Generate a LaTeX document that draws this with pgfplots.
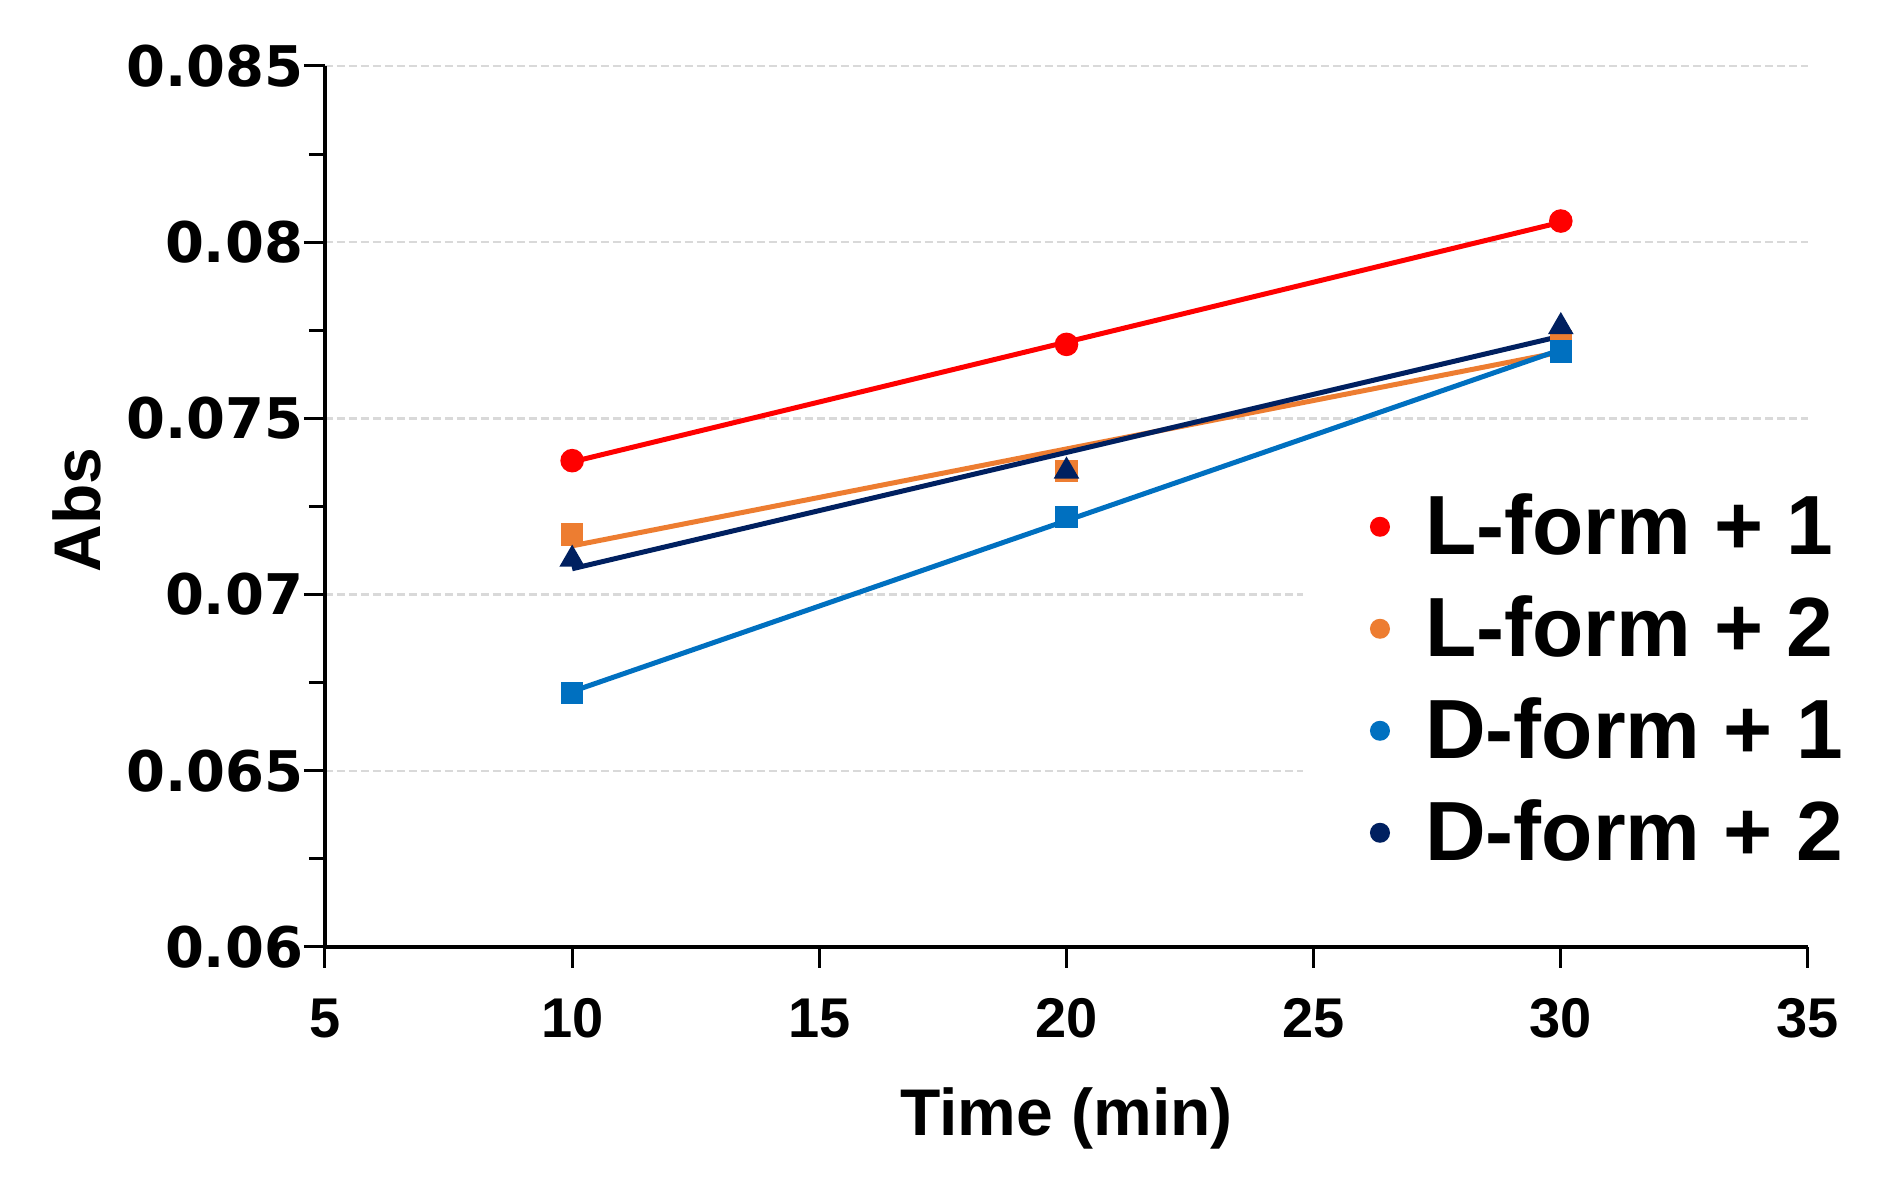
\documentclass[border=0pt]{standalone}
\usepackage{fontspec}
\setmainfont{Liberation Sans}
\newfontfamily\tickfont{DejaVu Sans}
\usepackage{pgfplots}
\usepackage{pgfplotstable}
\pgfplotsset{compat=1.18}

\definecolor{lone}{HTML}{FF0000}
\definecolor{ltwo}{HTML}{ED7D31}
\definecolor{done}{HTML}{0070C0}
\definecolor{dtwo}{HTML}{002060}
\definecolor{gridgray}{HTML}{D9D9D9}

% Abs against time
\pgfplotstableread{
x y
10 0.0738
20 0.0771
30 0.0806
}\lformone
\pgfplotstableread{
x y
10 0.0717
20 0.0735
30 0.0772
}\lformtwo
\pgfplotstableread{
x y
10 0.0672
20 0.0722
30 0.0769
}\dformone
\pgfplotstableread{
x y
10 0.0710
20 0.0735
30 0.0776
}\dformtwo

\begin{document}
\begin{tikzpicture}
\path[use as bounding box] (-81.25pt,-59.25pt) rectangle (393.5pt,236.75pt);
\begin{axis}[
    at={(0pt,0pt)}, anchor=south west,
    scale only axis, width=370.75pt, height=220.25pt,
    xmin=5, xmax=35, ymin=0.06, ymax=0.085,
    xtick={5,10,15,20,25,30,35},
    xticklabels={5,10,15,20,25,30,35},
    ytick={0.06,0.065,0.07,0.075,0.08,0.085},
    yticklabels={0.06,0.065,0.07,0.075,0.08,0.085},
    minor ytick={0.0625,0.0675,0.0725,0.0775,0.0825},
    scaled y ticks=false,
    /pgf/number format/assume math mode=true,
    axis lines=left,
    axis line style={-, line width=0.85pt},
    tick align=outside,
    major tick length=5.25pt, minor tick length=4pt,
    tick style={black, line width=0.75pt},
    ymajorgrids,
    major grid style={gridgray, line width=0.6pt, dash pattern=on 2pt off 1pt},
    xticklabel style={font=\fontsize{14}{16}\selectfont\bfseries, anchor=north, inner sep=0pt, yshift=-7.5pt},
    yticklabel style={font=\tickfont\fontsize{14}{16}\selectfont\bfseries, anchor=east, inner sep=0pt},
    xlabel={Time (min)},
    xlabel style={at={(axis description cs:0.5,-0.2145)}, anchor=base, font=\fontsize{16.5}{20}\selectfont\bfseries},
    ylabel={Abs},
    ylabel style={at={(axis description cs:-0.1517,0.496)}, anchor=base, font=\fontsize{16.5}{20}\selectfont\bfseries},
    legend style={at={(axis description cs:0.6588,0.5369)}, anchor=north west,
        draw=none, fill=white, inner xsep=17pt, inner ysep=5pt,
        font=\fontsize{21}{25}\selectfont\bfseries, row sep=6pt,
        nodes={inner sep=0pt, text height=15pt, text depth=4.5pt},
        /tikz/every odd column/.style={column sep=9pt}},
    legend cell align=left,
]
% linear trend lines
\addplot[lone, line width=1.25pt, forget plot] table[x=x, y={create col/linear regression={y=y}}] {\lformone};
\addplot[ltwo, line width=1.25pt, forget plot] table[x=x, y={create col/linear regression={y=y}}] {\lformtwo};
\addplot[done, line width=1.25pt, forget plot] table[x=x, y={create col/linear regression={y=y}}] {\dformone};
\addplot[dtwo, line width=1.25pt, forget plot] table[x=x, y={create col/linear regression={y=y}}] {\dformtwo};
% measured points
\addplot[lone, only marks, mark=*, mark size=2.75pt, forget plot] table[x=x, y=y] {\lformone};
\addplot[ltwo, only marks, mark=square*, mark size=2.6pt, forget plot] table[x=x, y=y] {\lformtwo};
\addplot[done, only marks, mark=square*, mark size=2.6pt, forget plot] table[x=x, y=y] {\dformone};
\addplot[dtwo, only marks, mark=triangle*, mark size=3.3pt, forget plot] table[x=x, y=y] {\dformtwo};
% legend shows small dots only
\addlegendimage{lone, only marks, mark=*, mark size=2.3pt, yshift=1.75pt}
\addlegendentry{L-form + 1}
\addlegendimage{ltwo, only marks, mark=*, mark size=2.3pt, yshift=1.75pt}
\addlegendentry{L-form + 2}
\addlegendimage{done, only marks, mark=*, mark size=2.3pt, yshift=1.75pt}
\addlegendentry{D-form + 1}
\addlegendimage{dtwo, only marks, mark=*, mark size=2.3pt, yshift=1.75pt}
\addlegendentry{D-form + 2}
\end{axis}
\end{tikzpicture}
\end{document}
